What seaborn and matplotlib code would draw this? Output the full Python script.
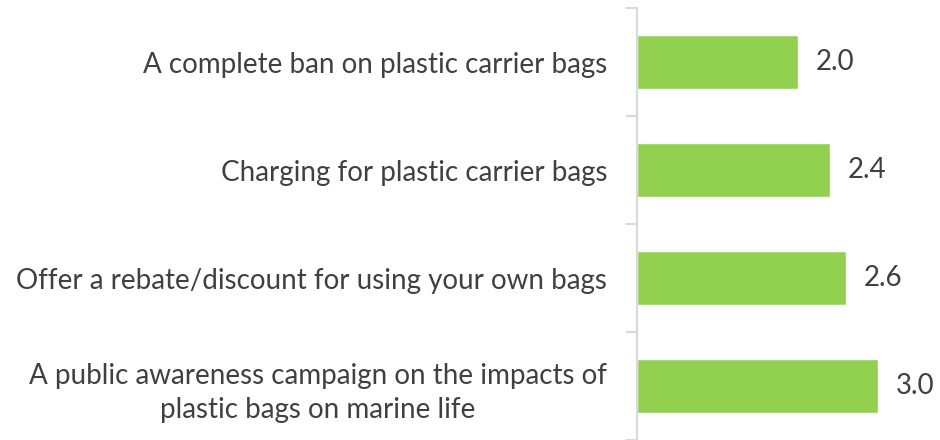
import matplotlib
matplotlib.use("Agg")
import matplotlib.pyplot as plt
import seaborn as sns
import pandas as pd

categories = [
    "A complete ban on plastic carrier bags",
    "Charging for plastic carrier bags",
    "Offer a rebate/discount for using your own bags",
    "A public awareness campaign on the impacts of\nplastic bags on marine life",
]
values = [2.0, 2.4, 2.6, 3.0]

df = pd.DataFrame({"category": categories, "value": values})

sns.set_style("white")
plt.rcParams['font.family'] = ['Lato', 'DejaVu Sans']

W, H = 940, 440
fig = plt.figure(figsize=(W / 100, H / 100), dpi=100)
left_px, top_px, bottom_px = 637, 8, 440
right_px = 940
ax = fig.add_axes([left_px / W, 1 - bottom_px / H, (right_px - left_px) / W, (bottom_px - top_px) / H])

sns.barplot(data=df, y="category", x="value", orient="h", color="#92D050",
            saturation=1, width=0.5, ax=ax)

ax.set_xlim(0, (right_px - left_px) / 80.4)
ax.set_ylim(3.5, -0.5)
ax.set_xlabel("")
ax.set_ylabel("")
ax.set_xticks([])

for s in ["top", "right", "bottom"]:
    ax.spines[s].set_visible(False)
ax.spines["left"].set_color("#d9d9d9")
ax.spines["left"].set_linewidth(1.5)

# category boundary ticks
ax.set_yticks([-0.5, 0.5, 1.5, 2.5, 3.5], minor=True)
ax.tick_params(axis="y", which="minor", length=8, width=1.5, color="#d9d9d9", left=True)
ax.tick_params(axis="y", which="major", length=0, pad=21.5, labelsize=20, labelcolor="#404040")
for lbl in ax.get_yticklabels():
    lbl.set_multialignment("center")
    lbl.set_linespacing(1.4)

for i, v in enumerate(values):
    ax.annotate(f"{v:.1f}", xy=(v, i), xytext=(13, 0), textcoords="offset points",
                ha="left", va="center", fontsize=20, color="#404040")

fig.savefig("out.png", dpi=100)
